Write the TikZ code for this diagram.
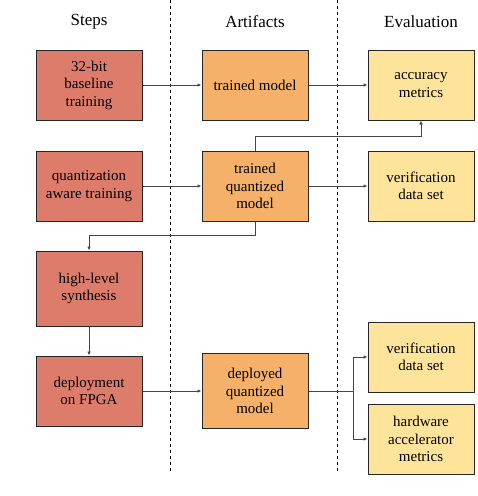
\documentclass[tikz,border=0pt]{standalone}
\usepackage{fontspec}
\setmainfont{Liberation Serif}
\usetikzlibrary{positioning,arrows.meta}
\definecolor{stepred}{RGB}{222,124,107}
\definecolor{artorange}{RGB}{245,176,106}
\definecolor{evalyellow}{RGB}{254,228,154}
\definecolor{linegray}{RGB}{70,70,70}
\begin{document}
\begin{tikzpicture}[x=1pt,y=-1pt,
  box/.style={draw=black!85,line width=1pt,minimum width=106pt,minimum height=70pt,
  align=center,font=\fontsize{15}{17.5}\selectfont,inner sep=2pt},
  stepbox/.style={box,fill=stepred},
  artbox/.style={box,fill=artorange},
  evalbox/.style={box,fill=evalyellow},
  head/.style={font=\fontsize{17}{20}\selectfont},
  sep/.style={dashed,dash pattern=on 3pt off 3pt,line width=0.8pt},
  arr/.style={-{Latex[length=4pt,width=3.5pt]},draw=linegray,line width=0.9pt}
]
\useasboundingbox (0,0) rectangle (478,496);
\coordinate (top) at (0,22);
\node[stepbox] (base) at (89,85) {32-bit\\baseline\\training};
\node[stepbox,below=30pt of base] (qat) {quantization\\aware training};
\node[stepbox,minimum height=75pt,below=29pt of qat] (hls) {high-level\\synthesis};
\node[stepbox,below=29pt of hls] (fpga) {deployment\\on FPGA};
\node[artbox,right=59pt of base] (tm) {trained model};
\node[artbox,right=59pt of qat] (tqm) {trained\\quantized\\model};
\node[artbox,minimum height=75pt,right=59pt of fpga] (dqm) {deployed\\quantized\\model};
\node[evalbox,right=59pt of tm] (acc) {accuracy\\metrics};
\node[evalbox,right=59pt of tqm] (ver) {verification\\data set};
\node[evalbox,below=100pt of ver] (ver2) {verification\\data set};
\node[evalbox,below=11pt of ver2] (hw) {hardware\\accelerator\\metrics};
\node[head] (hsteps) at (base |- top) {Steps};
\node[head] (hart) at (tm |- top) {Artifacts};
\node[head] (heval) at (acc |- top) {Evaluation};
\draw[sep] (170,0) -- (170,473);
\draw[sep] (337,0) -- (337,473);
\draw[arr] (base) -- (tm);
\draw[arr] (tm) -- (acc);
\draw[arr] (qat) -- (tqm);
\draw[arr] (tqm) -- (ver);
\draw[arr] (tqm.north) -- ++(0,-14) -| (acc.south);
\draw[arr] (tqm.south) -- ++(0,14) -| (hls.north);
\draw[arr] (hls) -- (fpga);
\draw[arr] (fpga) -- (fpga -| dqm.west);
\draw[draw=linegray,line width=0.9pt] (dqm.east) -- ++(45,0) coordinate (split);
\draw[arr] (split) |- (ver2.west);
\draw[arr] (split) |- (hw.west);
\end{tikzpicture}
\end{document}
